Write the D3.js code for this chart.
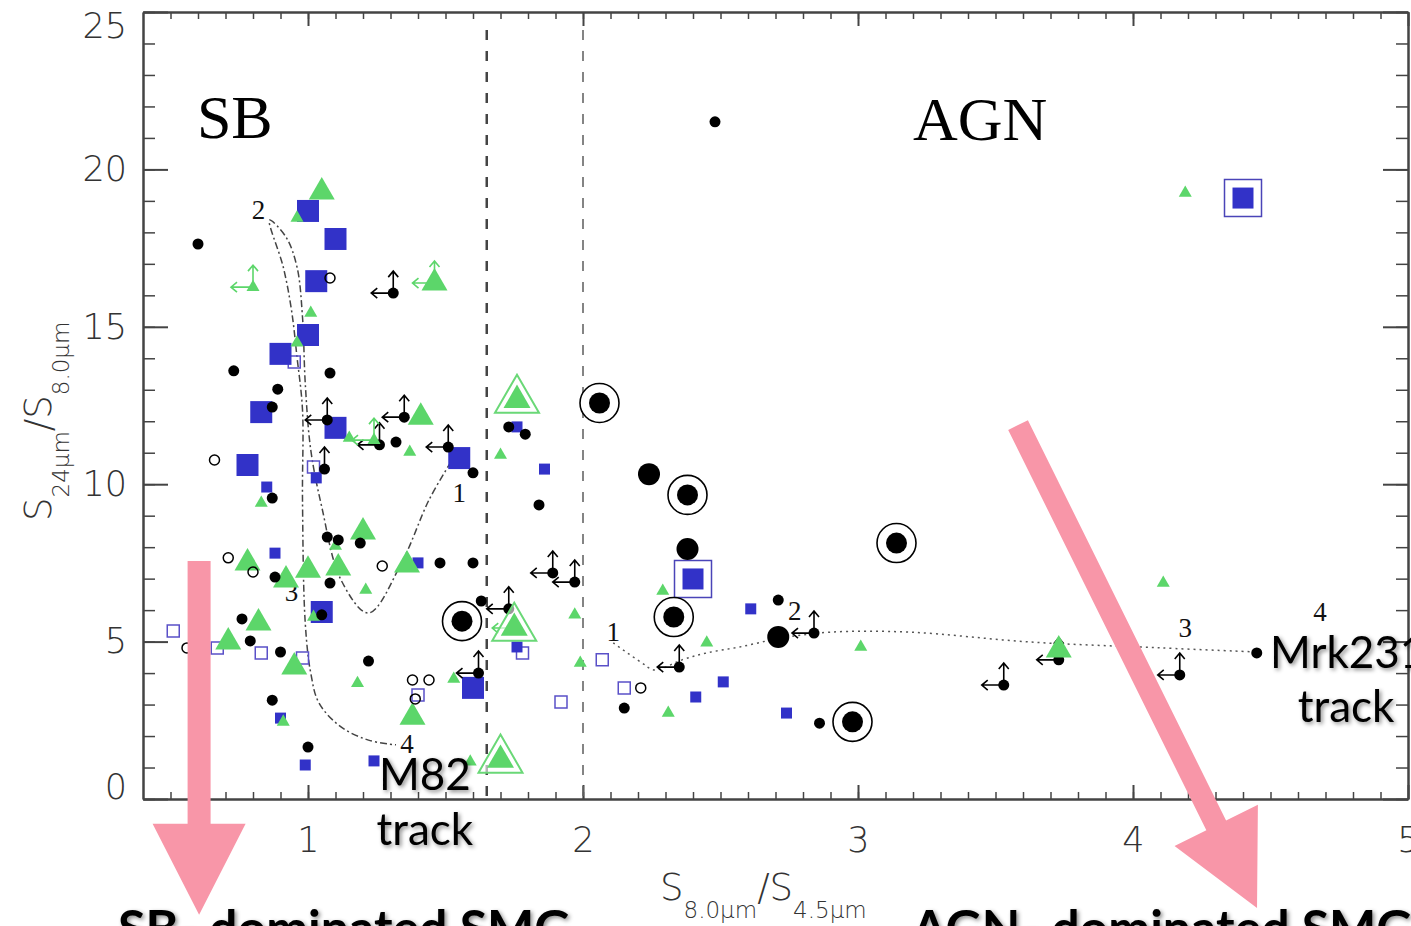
<!DOCTYPE html>
<meta charset="utf-8">
<style>
body { margin: 0; background: #fff; }
.axis text { font-family: "DejaVu Sans", sans-serif; font-weight: 200; font-size: 35px; fill: #333; }
.axis .domain { stroke: #444; stroke-width: 2; }
.axis .tick line { stroke: #444; stroke-width: 2; }
.minor .tick line { stroke-width: 1.5; }
.region { font-family: "Liberation Serif", "Times New Roman", serif; font-size: 62px; fill: #000; }
.tracknum { font-family: "Liberation Serif", serif; font-size: 27px; fill: #111; text-anchor: middle; }
.note { font-family: Lato, "Open Sans", sans-serif; font-size: 44px; fill: #000; }
.bottom-note { font-family: Lato, "Open Sans", sans-serif; font-weight: 700; font-size: 50px; fill: #000; }
.title { font-family: "DejaVu Sans", sans-serif; font-weight: 200; fill: #333; }
</style>
<body>
<script src="https://d3js.org/d3.v7.min.js"></script>
<script>
var w = 1411, h = 926;

// ---- data (x = S8.0/S4.5, y = S24/S8.0) ----
var smallDots = [[0.60,17.63],[2.48,21.51],[0.73,13.60],[1.08,13.53],[0.89,13.02],[0.87,12.45],
  [1.32,11.34],[1.60,10.36],[0.87,9.56],[1.07,8.32],[1.11,8.23],[1.19,8.13],[0.88,7.05],[1.08,6.86],
  [1.48,7.50],[1.60,7.50],[0.76,5.72],[1.05,5.85],[1.63,6.29],[0.79,5.02],[0.90,4.67],[1.22,4.38],
  [0.87,3.14],[1.00,1.65],[1.73,11.82],[1.79,11.59],[1.84,9.34],[2.15,2.89],[2.71,6.32],[2.86,2.41],[4.45,4.64]];
var limitDots = [[1.31,16.07],[1.07,12.04],[1.35,12.13],[1.26,11.25],[1.51,11.18],[1.89,7.18],[1.97,6.89],
  [1.73,6.04],[1.62,4.00],[2.35,4.19],[2.84,5.27],[3.53,3.62],[3.73,4.42],[4.17,3.94]];
var limitUpOnly = [[1.06,10.48]];
var bigDots = [[2.24,10.32],[2.38,7.94],[2.71,5.15]];
var ringDots = [[2.06,12.58],[2.38,9.66],[3.14,8.13],[2.33,5.78],[1.56,5.65],[2.98,2.45]];
var openCircles = [[1.08,16.55],[0.66,10.77],[0.71,7.66],[0.80,7.21],[1.27,7.40],[0.56,4.80],[1.38,3.78],
  [1.44,3.78],[1.39,3.18],[2.21,3.53]];

var bigSquares = [[1.00,18.68],[1.10,17.79],[1.03,16.45],[1.00,14.74],[0.90,14.14],[0.83,12.29],[1.10,11.79],
  [1.55,10.83],[0.78,10.61],[1.05,5.94],[1.60,3.53]];
var framedSquares = [[2.40,6.99],[4.40,19.09]];
var smallSquares = [[0.85,9.91],[1.03,10.20],[0.88,7.81],[1.40,7.50],[0.90,2.57],[0.99,1.08],[1.24,1.21],
  [1.76,11.82],[1.86,10.48],[1.76,4.83],[2.61,6.04],[2.51,3.72],[2.41,3.24],[2.74,2.73]];
var openSquares = [[0.95,13.88],[1.02,10.55],[0.51,5.34],[0.67,4.80],[0.83,4.64],[0.98,4.48],[1.40,3.30],
  [1.78,4.64],[1.92,3.08],[2.07,4.42],[2.15,3.53]];

var bigTriangles = [[1.05,19.28],[1.41,12.13],[1.20,8.48],[0.78,7.50],[0.92,6.96],[1.00,7.27],[1.11,7.34],
  [1.36,7.43],[0.82,5.59],[0.71,4.99],[0.95,4.19],[1.38,2.60],[3.73,4.73],[1.46,16.39]];
var smallTriangles = [[0.96,18.46],[1.01,15.44],[0.96,14.49],[1.15,11.47],[1.37,11.02],[1.70,10.93],[0.83,9.40],
  [1.10,8.04],[1.21,6.64],[1.02,5.78],[1.18,3.68],[1.53,3.81],[0.91,2.45],[1.59,1.18],[1.97,5.85],[1.99,4.32],
  [2.29,6.61],[2.45,4.96],[2.31,2.73],[3.01,4.83],[4.11,6.86],[4.19,19.25],[0.80,16.26],[1.24,11.40]];
var ringTriangles = [[1.76,12.67],[1.75,5.43],[1.70,1.24]];
var greenLimits = [[0.80,16.26],[1.46,16.39],[1.24,11.40]];
var greenLeftOnly = [[1.75,5.43]];

var m82Track = [[1.52,10.71],[1.44,9.50],[1.34,7.50],[1.22,5.91],[1.12,6.96],[1.05,9.28],[1.01,11.09],
  [0.99,13.21],[0.98,15.31],[0.96,16.90],[0.92,17.85],[0.86,18.39],[0.91,16.90],[0.94,15.53],[0.96,14.04],
  [0.98,12.36],[0.98,9.50],[0.99,5.59],[1.01,4.00],[1.04,3.05],[1.12,2.29],[1.22,1.87],[1.32,1.72]];
var m82Labels = [["1",1.55,9.75],["2",0.82,18.71],["3",0.94,6.58],["4",1.36,1.75]];
var mrkTrack = [[2.11,4.96],[2.21,4.35],[2.26,4.10],[2.36,4.42],[2.45,4.64],[2.57,4.83],[2.72,5.11],
  [2.90,5.30],[3.19,5.30],[3.62,4.99],[4.10,4.80],[4.45,4.67]];
var mrkLabels = [["1",2.11,5.31],["2",2.77,6.00],["3",4.19,5.46],["4",4.68,5.94]];

var xMajor = [1,2,3,4,5];
var yMajor = [0,5,10,15,20,25];
var dividers = [1.65, 2.0];

var blue = "#3232c8", green = "#5cd66a", pink = "#f896a8";

var svg = d3.select("body").append("svg").attr("width", w).attr("height", h);

var defs = svg.append("defs");
var f = defs.append("filter").attr("id", "shadow").attr("x", "-20%").attr("y", "-20%").attr("width", "140%").attr("height", "160%");
f.append("feDropShadow").attr("dx", 2).attr("dy", 2).attr("stdDeviation", 2).attr("flood-color", "#000").attr("flood-opacity", 0.45);

var x = d3.scaleLinear().domain([0.4, 5.0]).range([143, 1408]);
var y = d3.scaleLinear().domain([0, 25]).range([799, 12]);

// ---- axes ----
var minorX = d3.range(5, 50).map(function(d){ return d / 10; });
var minorY = d3.range(0, 26);

svg.append("g").attr("class", "axis minor").attr("transform", "translate(0," + y(0) + ")")
  .call(d3.axisBottom(x).tickValues(minorX).tickSize(-7).tickSizeOuter(0).tickFormat(""));
svg.append("g").attr("class", "axis minor").attr("transform", "translate(0," + y(25) + ")")
  .call(d3.axisTop(x).tickValues(minorX).tickSize(-7).tickSizeOuter(0).tickFormat(""));
svg.append("g").attr("class", "axis minor").attr("transform", "translate(" + x(0.4) + ",0)")
  .call(d3.axisLeft(y).tickValues(minorY).tickSize(-12).tickSizeOuter(0).tickFormat(""));
svg.append("g").attr("class", "axis minor").attr("transform", "translate(" + x(5.0) + ",0)")
  .call(d3.axisRight(y).tickValues(minorY).tickSize(-12).tickSizeOuter(0).tickFormat(""));

svg.append("g").attr("class", "axis").attr("transform", "translate(0," + y(0) + ")")
  .call(d3.axisBottom(x).tickValues(xMajor).tickSize(-14).tickSizeOuter(0).tickPadding(28).tickFormat(d3.format("d")));
svg.append("g").attr("class", "axis").attr("transform", "translate(0," + y(25) + ")")
  .call(d3.axisTop(x).tickValues(xMajor).tickSize(-14).tickSizeOuter(0).tickFormat(""));
var yAx = svg.append("g").attr("class", "axis").attr("transform", "translate(" + x(0.4) + ",0)")
  .call(d3.axisLeft(y).tickValues(yMajor).tickSize(-25).tickSizeOuter(0).tickPadding(16).tickFormat(d3.format("d")));
yAx.select(".domain").attr("stroke", "#888").attr("stroke-width", 3);
yAx.selectAll(".tick text").attr("transform", function(d){ return d === 0 ? "translate(0,-12)" : d === 25 ? "translate(0,14)" : null; });
svg.append("g").attr("class", "axis").attr("transform", "translate(" + x(5.0) + ",0)")
  .call(d3.axisRight(y).tickValues(yMajor).tickSize(-25).tickSizeOuter(0).tickFormat(""));

// dashed dividers
svg.append("g").selectAll("line").data(dividers).enter().append("line")
  .attr("x1", function(d){ return x(d); }).attr("x2", function(d){ return x(d); })
  .attr("y1", y(25) + 18).attr("y2", y(0))
  .attr("stroke", function(d, i){ return i === 0 ? "#444" : "#666"; })
  .attr("stroke-width", function(d, i){ return i === 0 ? 2.5 : 1.6; })
  .attr("stroke-dasharray", "10,11");

// axis titles
var xt = svg.append("text").attr("class", "title").attr("x", 660).attr("y", 900);
xt.append("tspan").attr("font-size", 37).text("S");
xt.append("tspan").attr("font-size", 23).attr("dy", 18).text("8.0μm");
xt.append("tspan").attr("font-size", 37).attr("dy", -18).text("/S");
xt.append("tspan").attr("font-size", 23).attr("dy", 18).text("4.5μm");

var yt = svg.append("text").attr("class", "title").attr("transform", "translate(51,521) rotate(-90)");
yt.append("tspan").attr("font-size", 37).text("S");
yt.append("tspan").attr("font-size", 23).attr("dy", 18).text("24μm");
yt.append("tspan").attr("font-size", 37).attr("dy", -18).text("/S");
yt.append("tspan").attr("font-size", 23).attr("dy", 18).text("8.0μm");

// region labels
svg.append("text").attr("class", "region").attr("x", x(0.596)).attr("y", y(21.0)).text("SB");
svg.append("text").attr("class", "region").attr("x", x(3.2)).attr("y", y(20.93)).text("AGN");

// ---- tracks ----
var line = d3.line().x(function(d){ return x(d[0]); }).y(function(d){ return y(d[1]); }).curve(d3.curveCatmullRom);
svg.append("path").datum(m82Track).attr("d", line).attr("fill", "none")
  .attr("stroke", "#444").attr("stroke-width", 1.5).attr("stroke-dasharray", "7,3,2,3");
svg.append("path").datum(mrkTrack).attr("d", line).attr("fill", "none")
  .attr("stroke", "#555").attr("stroke-width", 1.5).attr("stroke-dasharray", "2,4");
svg.append("g").selectAll("text").data(m82Labels.concat(mrkLabels)).enter().append("text")
  .attr("class", "tracknum").attr("x", function(d){ return x(d[1]); }).attr("y", function(d){ return y(d[2]); })
  .attr("dy", "0.35em").text(function(d){ return d[0]; });

function pt(d){ return "translate(" + x(d[0]) + "," + y(d[1]) + ")"; }
function tri(s){ var t = s * Math.sqrt(3) / 2; return "M0," + (-2 * t / 3) + "L" + (s / 2) + "," + (t / 3) + "L" + (-s / 2) + "," + (t / 3) + "Z"; }
function sq(s){ return "M" + (-s/2) + "," + (-s/2) + "h" + s + "v" + s + "h" + (-s) + "Z"; }

// ---- blue squares ----
svg.append("g").selectAll("path").data(openSquares).enter().append("path")
  .attr("transform", pt).attr("d", sq(12)).attr("fill", "none").attr("stroke", "#5a50c8").attr("stroke-width", 1.5);
svg.append("g").selectAll("path").data(bigSquares).enter().append("path")
  .attr("transform", pt).attr("d", sq(22)).attr("fill", blue);
var fs = svg.append("g").selectAll("g").data(framedSquares).enter().append("g").attr("transform", pt);
fs.append("path").attr("d", sq(37)).attr("fill", "none").attr("stroke", "#4a44b8").attr("stroke-width", 1.5);
fs.append("path").attr("d", sq(21)).attr("fill", blue);
svg.append("g").selectAll("path").data(smallSquares).enter().append("path")
  .attr("transform", pt).attr("d", sq(11)).attr("fill", blue);

// ---- black upper limits ----
function limitArrows(sel, color, left, up){
  var g = sel.append("g").attr("fill", "none").attr("stroke", color).attr("stroke-width", 1.6);
  if (left) g.append("path").attr("d", "M0,0H-22M-16,-5L-22,0L-16,5");
  if (up) g.append("path").attr("d", "M0,0V-22M-5,-16L0,-22L5,-16");
}
svg.append("g").selectAll("g").data(limitDots).enter().append("g").attr("transform", pt)
  .each(function(){ var s = d3.select(this); limitArrows(s, "#000", true, true); s.append("circle").attr("r", 5.5).attr("fill", "#000"); });
svg.append("g").selectAll("g").data(limitUpOnly).enter().append("g").attr("transform", pt)
  .each(function(){ var s = d3.select(this); limitArrows(s, "#000", false, true); s.append("circle").attr("r", 5.5).attr("fill", "#000"); });

// ---- green triangles ----
svg.append("g").selectAll("g").data(greenLimits).enter().append("g").attr("transform", pt)
  .each(function(){ limitArrows(d3.select(this), green, true, true); });
svg.append("g").selectAll("g").data(greenLeftOnly).enter().append("g").attr("transform", pt)
  .each(function(){ limitArrows(d3.select(this), green, true, false); });
var rt = svg.append("g").selectAll("g").data(ringTriangles).enter().append("g").attr("transform", pt);
rt.append("path").attr("d", tri(44)).attr("fill", "#fff").attr("fill-opacity", 0.6).attr("stroke", "#6ad877").attr("stroke-width", 2);
rt.append("path").attr("d", tri(27)).attr("fill", green);
svg.append("g").selectAll("path").data(bigTriangles).enter().append("path")
  .attr("transform", pt).attr("d", tri(26)).attr("fill", green);
svg.append("g").selectAll("path").data(smallTriangles).enter().append("path")
  .attr("transform", pt).attr("d", tri(13)).attr("fill", green);

// ---- black circles ----
svg.append("g").selectAll("circle").data(smallDots).enter().append("circle")
  .attr("cx", function(d){ return x(d[0]); }).attr("cy", function(d){ return y(d[1]); }).attr("r", 5.5).attr("fill", "#000");
svg.append("g").selectAll("circle").data(bigDots).enter().append("circle")
  .attr("cx", function(d){ return x(d[0]); }).attr("cy", function(d){ return y(d[1]); }).attr("r", 11).attr("fill", "#000");
var rd = svg.append("g").selectAll("g").data(ringDots).enter().append("g").attr("transform", pt);
rd.append("circle").attr("r", 19.5).attr("fill", "#fff").attr("stroke", "#000").attr("stroke-width", 1.6);
rd.append("circle").attr("r", 10.5).attr("fill", "#000");
svg.append("g").selectAll("circle").data(openCircles).enter().append("circle")
  .attr("cx", function(d){ return x(d[0]); }).attr("cy", function(d){ return y(d[1]); }).attr("r", 5)
  .attr("fill", "none").attr("stroke", "#000").attr("stroke-width", 1.5);

// ---- annotations ----
function bigArrow(p0, p1, shaftW, headW, headL){
  var dx = p1[0] - p0[0], dy = p1[1] - p0[1], L = Math.hypot(dx, dy);
  var ux = dx / L, uy = dy / L, nx = -uy, ny = ux;
  var bx = p1[0] - ux * headL, by = p1[1] - uy * headL;
  var pts = [[p0[0] + nx * shaftW / 2, p0[1] + ny * shaftW / 2], [bx + nx * shaftW / 2, by + ny * shaftW / 2],
    [bx + nx * headW / 2, by + ny * headW / 2], p1, [bx - nx * headW / 2, by - ny * headW / 2],
    [bx - nx * shaftW / 2, by - ny * shaftW / 2], [p0[0] - nx * shaftW / 2, p0[1] - ny * shaftW / 2]];
  return "M" + pts.join("L") + "Z";
}
svg.append("path").attr("d", bigArrow([x(0.604), y(7.56)], [x(0.604), y(-3.68)], 23, 93, 91)).attr("fill", pink);
svg.append("path").attr("d", bigArrow([x(3.582), y(11.88)], [x(4.451), y(-3.46)], 22, 93, 92)).attr("fill", pink);

var notes = svg.append("g").attr("filter", "url(#shadow)");
notes.append("text").attr("class", "note").attr("text-anchor", "middle").attr("x", x(1.425)).attr("y", y(0.29)).text("M82");
notes.append("text").attr("class", "note").attr("text-anchor", "middle").attr("x", x(1.425)).attr("y", y(-1.46)).text("track");
notes.append("text").attr("class", "note").attr("x", x(4.498)).attr("y", y(4.16)).text("Mrk231");
notes.append("text").attr("class", "note").attr("text-anchor", "middle").attr("x", x(4.775)).attr("y", y(2.45)).text("track");
notes.append("text").attr("class", "bottom-note").attr("x", x(0.309)).attr("y", y(-4.67)).text("SB- dominated SMG");
notes.append("text").attr("class", "bottom-note").attr("x", x(3.196)).attr("y", y(-4.67)).text("AGN- dominated SMG");
</script>
</body>
